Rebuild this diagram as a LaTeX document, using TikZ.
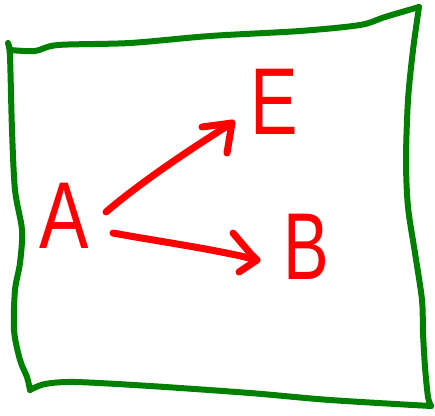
\documentclass[tikz,border=0pt]{standalone}
\usepackage{fontspec}
\usepackage{graphicx}
\setmainfont{Liberation Sans}
\usetikzlibrary{calc}
\definecolor{frameg}{RGB}{0,128,0}
\definecolor{inkred}{RGB}{255,0,0}
\tikzset{
  frameline/.style={draw=frameg, line width=6pt, line cap=round, line join=round},
  inkline/.style={draw=inkred, line width=7pt, line cap=round, line join=round},
  letter/.style={text=inkred, inner sep=0pt, font=\fontsize{95}{95}\selectfont}
}
\begin{document}
\begin{tikzpicture}[x=1pt,y=-1pt]
\useasboundingbox (0,0) rectangle (435,415);
% frame
\draw[frameline] plot[smooth,tension=0.5] coordinates {(10,50) (35,51) (58,45) (130,43) (210,36) (300,31) (360,25) (385,17) (419,7)};
\draw[frameline] plot[smooth,tension=0.5] coordinates {(419,7) (413,50) (408,100) (406,160) (408,207) (415,253) (422,300) (423,333) (425,367) (428,397) (431,406)};
\draw[frameline] plot[smooth,tension=0.5] coordinates {(431,406) (330,400) (250,393) (150,386) (75,382) (45,384) (30,390)};
\draw[frameline] plot[smooth,tension=0.5] coordinates {(30,390) (27,377) (20,360) (14,330) (15,290) (20,263) (22,230) (15,190) (12,130) (10,57) (8,43) (10,50)};
% letters
\node[letter] (A) at (64,216) {\scalebox{0.78}[1]{A}};
\node[letter] (E) at (274,102) {\scalebox{0.75}[1]{E}};
\node[letter] (B) at (306,247) {\scalebox{0.72}[1]{B}};
% arrow A -> E
\coordinate (t1) at ($(E)+(-42,21)$);
\draw[inkline] ($(A)+(42,-4)$) .. controls ($(A)+(77,-34)$) and ($(t1)+(-40,25)$) .. (t1);
\draw[inkline] ($(t1)+(-30,4)$) -- (t1) -- ($(t1)+(-5,30)$);
% arrow A -> B
\coordinate (t2) at ($(B)+(-49,13)$);
\draw[inkline] ($(A)+(49,17)$) .. controls ($(A)+(86,24)$) and ($(t2)+(-37,-10)$) .. (t2);
\draw[inkline] ($(t2)+(-24,-27)$) -- ($(t2)+(-7,-7)$) -- (t2) -- ($(t2)+(-18,12)$);
\end{tikzpicture}
\end{document}
